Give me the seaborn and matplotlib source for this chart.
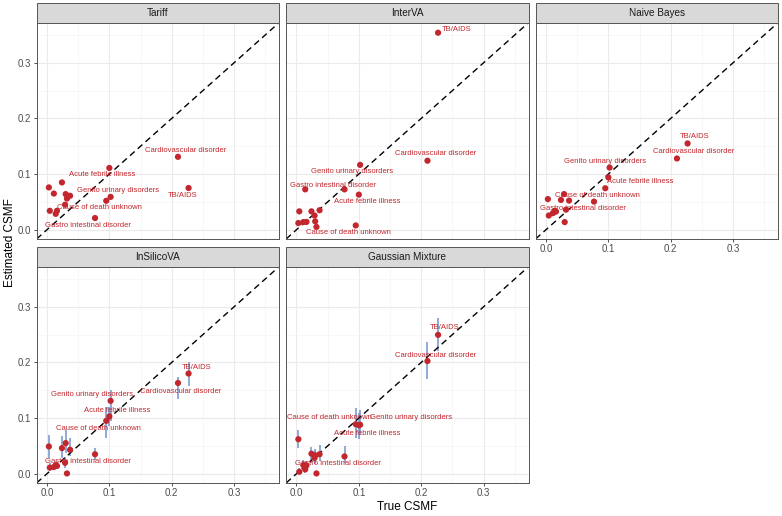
import numpy as np
import pandas as pd
import matplotlib
matplotlib.use("Agg")
import matplotlib.pyplot as plt
import seaborn as sns
from matplotlib.patches import Rectangle

sns.set_theme(style="whitegrid")
plt.rcParams['font.family'] = ['Liberation Sans', 'DejaVu Sans']

# ---------------- data ----------------
methods = ["Tariff", "InterVA", "Naive Bayes", "InSilicoVA", "Gaussian Mixture"]

causes = ["TB/AIDS", "Cardiovascular disorder", "Genito urinary disorders",
          "Acute febrile illness", "Cause of death unknown", "Gastro intestinal disorder",
          "c1", "c2", "c3", "c4", "c5", "c6", "c7", "c8", "c9", "c10"]
labeled = [True] * 6 + [False] * 10

true_csmf = [0.227, 0.210, 0.102, 0.100, 0.095, 0.077,
             0.003, 0.0045, 0.011, 0.014, 0.016, 0.024, 0.029, 0.030, 0.032, 0.037]

tariff = [0.075, 0.131, 0.059, 0.111, 0.052, 0.021,
          0.076, 0.034, 0.065, 0.0285, 0.034, 0.085, 0.045, 0.064, 0.056, 0.061]
interva = [0.354, 0.124, 0.1165, 0.063, 0.0077, 0.0725,
           0.012, 0.033, 0.0137, 0.0725, 0.014, 0.033, 0.0255, 0.015, 0.005, 0.035]
naive_bayes = [0.155, 0.128, 0.1117, 0.094, 0.0745, 0.0505,
               0.055, 0.0255, 0.0297, 0.034, 0.0326, 0.0535, 0.064, 0.0137, 0.036, 0.0523]
insilico = [0.180, 0.163, 0.131, 0.103, 0.095, 0.035,
            0.049, 0.011, 0.012, 0.015, 0.014, 0.046, 0.0196, 0.055, 0.0005, 0.043]
insilico_lo = [0.158, 0.135, 0.095, 0.085, 0.065, 0.025,
               0.028, 0.005, 0.006, 0.008, 0.008, 0.0285, 0.010, 0.037, 0.000, 0.031]
insilico_hi = [0.201, 0.174, 0.150, 0.120, 0.120, 0.046,
               0.070, 0.020, 0.020, 0.022, 0.021, 0.067, 0.030, 0.079, 0.004, 0.064]
gaussmix = [0.2495, 0.2025, 0.088, 0.087, 0.089, 0.031,
            0.062, 0.0035, 0.0153, 0.0078, 0.015, 0.036, 0.0285, 0.033, 0.0005, 0.035]
gaussmix_lo = [0.220, 0.171, 0.070, 0.062, 0.064, 0.020,
               0.047, 0.000, 0.008, 0.002, 0.008, 0.020, 0.018, 0.020, 0.000, 0.0225]
gaussmix_hi = [0.279, 0.236, 0.115, 0.110, 0.118, 0.049,
               0.079, 0.010, 0.024, 0.015, 0.022, 0.0475, 0.040, 0.045, 0.004, 0.052]

estimates = {"Tariff": tariff, "InterVA": interva, "Naive Bayes": naive_bayes,
             "InSilicoVA": insilico, "Gaussian Mixture": gaussmix}
lower = {"InSilicoVA": insilico_lo, "Gaussian Mixture": gaussmix_lo}
upper = {"InSilicoVA": insilico_hi, "Gaussian Mixture": gaussmix_hi}

rows = []
for m in methods:
    for i, c in enumerate(causes):
        rows.append(dict(method=m, cause=c, labeled=labeled[i], true=true_csmf[i],
                         est=estimates[m][i],
                         lo=lower[m][i] if m in lower else np.nan,
                         hi=upper[m][i] if m in upper else np.nan))
df = pd.DataFrame(rows)

# label offsets (pixels) per method, per labeled cause (style only)
offsets = {
    "Tariff": [(-6, -8), (8, 6), (7, 6), (-7, -7), (-7, -7), (-7, -7)],
    "InterVA": [(19, 3), (8, 7), (-8, -7), (8, -7), (-7, -7), (-12, 4)],
    "Naive Bayes": [(7, 7), (17, 7), (-5, 6), (32, -4), (-8, -7), (-11, -7)],
    "InSilicoVA": [(8, 6), (3, -8), (-19, 6), (8, 6), (-8, -8), (-7, -7)],
    "Gaussian Mixture": [(7, 7), (8, 6), (51, 7), (8, -8), (-26, 7), (-7, -7)],
}

# ---------------- figure ----------------
W, H = 782, 516
fig = plt.figure(figsize=(W / 100, H / 100), dpi=100)

RED = "#C2272D"
BLUE = "#6F93CC"
col_left = [36.7, 286.2, 535.7]
pw = 242.3
row_top = [22.7, 266.7]
ph = 216.2
strip_h = 19.7
lims = (-0.0165, 0.372)

for k, m in enumerate(methods):
    r, c = divmod(k, 3)
    left, top = col_left[c], row_top[r]
    ax = fig.add_axes([left / W, 1 - (top + ph) / H, pw / W, ph / H])
    ax.set_facecolor("white")
    sub = df[df.method == m]

    if m in lower:
        ax.vlines(sub["true"], sub["lo"], sub["hi"], color=BLUE, lw=1.1, zorder=2)
    ax.axline((0, 0), slope=1, color="black", lw=1.0, ls=(0, (4.5, 3)), zorder=2.5)
    sns.scatterplot(data=sub, x="true", y="est", ax=ax, color=RED, s=20,
                    edgecolor="none", linewidth=0, legend=False, zorder=3)

    for (dx, dy), (_, row) in zip(offsets[m], sub[sub.labeled].iterrows()):
        ax.annotate(row["cause"], (row["true"], row["est"]), xytext=(dx, dy),
                    textcoords="offset pixels", ha="center", va="center",
                    fontsize=5.5, color=RED, zorder=4)

    ax.set_xlim(lims)
    ax.set_ylim(lims)
    ax.set_xticks([0, 0.1, 0.2, 0.3])
    ax.set_yticks([0, 0.1, 0.2, 0.3])
    ax.set_xticks([0.05, 0.15, 0.25, 0.35], minor=True)
    ax.set_yticks([0.05, 0.15, 0.25, 0.35], minor=True)
    ax.grid(which="major", color="#EBEBEB", lw=0.8)
    ax.grid(which="minor", color="#F4F4F4", lw=0.5)
    ax.set_axisbelow(True)
    ax.set_xlabel("")
    ax.set_ylabel("")
    show_x = k >= 2
    show_y = c == 0
    ax.tick_params(axis="both", which="major", length=2.5, width=0.6, color="#333333",
                   labelcolor="#4D4D4D", labelsize=7, pad=1.5)
    ax.tick_params(axis="both", which="minor", length=0)
    ax.tick_params(axis="x", bottom=show_x, labelbottom=show_x)
    ax.tick_params(axis="y", left=show_y, labelleft=show_y)
    ax.xaxis.set_major_formatter(matplotlib.ticker.FormatStrFormatter("%.1f"))
    ax.yaxis.set_major_formatter(matplotlib.ticker.FormatStrFormatter("%.1f"))
    for sp in ax.spines.values():
        sp.set_color("#555555")
        sp.set_linewidth(0.7)
        sp.set_visible(True)

    fig.add_artist(Rectangle((left / W, 1 - top / H), pw / W, strip_h / H,
                             transform=fig.transFigure, facecolor="#D9D9D9",
                             edgecolor="#555555", lw=0.7))
    fig.text((left + pw / 2) / W, 1 - (top - strip_h / 2) / H, m, ha="center",
             va="center", fontsize=7.2, color="#1A1A1A")

fig.text(407 / W, 1 - 507 / H, "True CSMF", ha="center", va="center",
         fontsize=8.5, color="black")
fig.text(10 / W, 1 - 243 / H, "Estimated CSMF", ha="center", va="center",
         rotation=90, fontsize=8.5, color="black")

fig.savefig("out.png", dpi=100)
